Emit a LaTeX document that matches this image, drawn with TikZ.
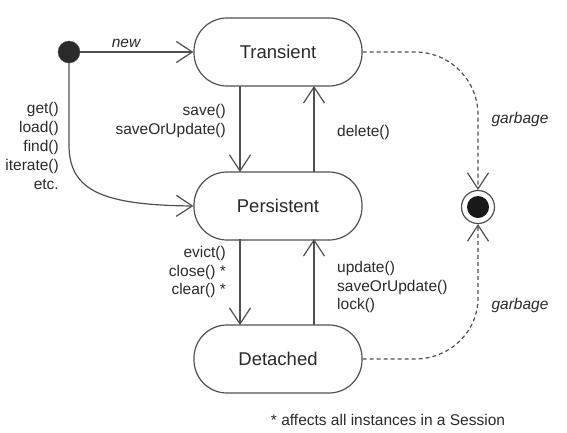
\documentclass[tikz,border=0pt]{standalone}
\usepackage{fontspec}
\setmainfont{Liberation Sans}
\usetikzlibrary{arrows.meta}
\definecolor{ln}{HTML}{505050}
\definecolor{tx}{HTML}{2A2A2A}
\tikzset{
  statebox/.style={draw=ln, line width=1.2pt, rectangle, rounded corners=33pt,
    minimum width=168pt, minimum height=68pt, inner sep=0pt, text=tx,
    font=\fontsize{18.5}{22}\selectfont},
  lbl/.style={text=tx, inner sep=0pt, font=\fontsize{15.5}{18.8}\selectfont},
  conn/.style={draw=ln, line width=1.2pt, -{Straight Barb[length=16pt,width=21pt,line width=1.2pt]}},
  dconn/.style={conn, dash pattern=on 4pt off 3pt},
}
\begin{document}
\begin{tikzpicture}[x=1pt,y=-1pt]
\useasboundingbox (0,0) rectangle (567,432);
\node[circle, fill=tx, draw=ln, minimum size=22pt, inner sep=0pt] (init) at (69,52) {};
\node[statebox] (T) at (278,52) {Transient};
\node[statebox] (P) at (278,206) {Persistent};
\node[statebox] (D) at (278,359) {Detached};
\node[circle, draw=ln, line width=1.2pt, minimum size=33pt, inner sep=0pt] (fin) at (478,207) {};
\node[circle, fill=black!90, minimum size=22pt, inner sep=0pt] (fincore) at (478,207) {};
\coordinate (bend) at (69,145);
\coordinate (tr) at (240,86);
\coordinate (tr2) at (314,86);
\coordinate (pr) at (240,172);
\coordinate (pr2) at (314,172);
\coordinate (pb) at (240,239);
\coordinate (pb2) at (314,239);
\coordinate (dt) at (240,325);
\coordinate (dt2) at (314,325);
\coordinate (g1) at (415,52);
\coordinate (g1b) at (478,115);
\coordinate (g2) at (415,359);
\coordinate (g2b) at (478,298);
% connectors
\draw[conn] (init) -- (T.west);
\draw[conn] (init) -- (bend) .. controls (69,192) and (105,205) .. (P.west);
\draw[conn] (tr) -- (pr);
\draw[conn] (pr2) -- (tr2);
\draw[conn] (pb) -- (dt);
\draw[conn] (dt2) -- (pb2);
\draw[dconn] (T.east) -- (g1) to[out=0,in=90] (g1b) -- (fin.north);
\draw[dconn] (D.east) -- (g2) to[out=0,in=-90] (g2b) -- (fin.south);
% labels
\node[lbl, font=\fontsize{15.5}{18.8}\selectfont\itshape] (lnew) at (126,43) {new};
\node[lbl, align=right, anchor=east] (lget) at (59,146) {get()\\load()\\find()\\iterate()\\etc.};
\node[lbl, align=right, anchor=east] (lsave) at (226,121) {save()\\saveOrUpdate()};
\node[lbl, anchor=west] (ldel) at (337,132) {delete()};
\node[lbl, align=right, anchor=east] (levict) at (226,272) {evict()\\close() *\\clear() *};
\node[lbl, align=left, anchor=west] (lupd) at (337,287) {update()\\saveOrUpdate()\\lock()};
\node[lbl, font=\fontsize{15.5}{18.8}\selectfont\itshape] (lg1) at (520,119) {garbage};
\node[lbl, font=\fontsize{15.5}{18.8}\selectfont\itshape] (lg2) at (520,305) {garbage};
\node[lbl] (lfoot) at (388,420) {* affects all instances in a Session};
\end{tikzpicture}
\end{document}
